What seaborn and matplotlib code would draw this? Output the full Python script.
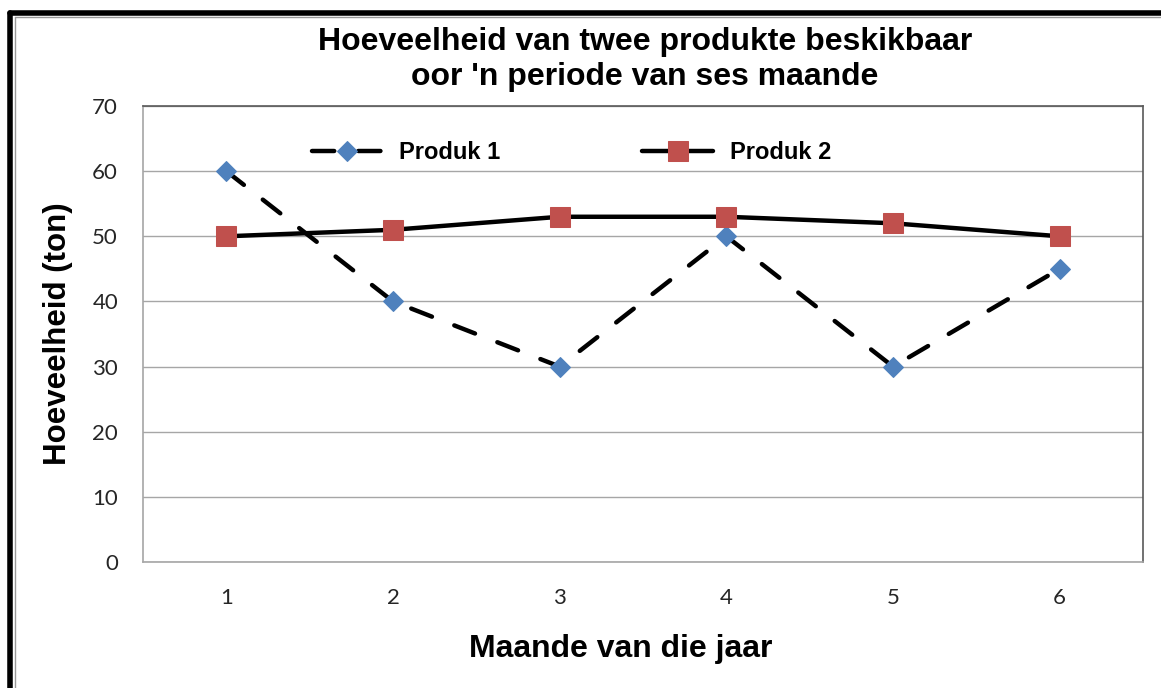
import matplotlib.pyplot as plt
import matplotlib.lines as mlines
import pandas as pd
import seaborn as sns

# chart values
months = [1, 2, 3, 4, 5, 6]
produk_1 = [60, 40, 30, 50, 30, 45]
produk_2 = [50, 51, 53, 53, 52, 50]

title = "Hoeveelheid van twee produkte beskikbaar\noor 'n periode van ses maande"
x_label = "Maande van die jaar"
y_label = "Hoeveelheid (ton)"

df = pd.DataFrame({"maand": months, "Produk 1": produk_1, "Produk 2": produk_2})

sns.set_style("white")
plt.rcParams['font.family'] = ['Liberation Sans', 'DejaVu Sans']
plt.rcParams['text.color'] = 'black'
plt.rcParams['axes.labelcolor'] = 'black'

fig = plt.figure(figsize=(11.61, 6.88), dpi=100)
ax = fig.add_axes([0.1232, 0.1831, 0.8613, 0.6628])

sns.lineplot(data=df, x="maand", y="Produk 1", ax=ax, color="black", lw=3.2,
             marker="D", markersize=10, markerfacecolor="#4F81BD",
             markeredgecolor="#4F81BD", label="Produk 1")
l1 = ax.lines[-1]
l1.set_linestyle((0, (5.0, 5.4)))
l1.set_dash_capstyle("round")
sns.lineplot(data=df, x="maand", y="Produk 2", ax=ax, color="black", lw=3.2,
             marker="s", markersize=14, markerfacecolor="#C0504D",
             markeredgecolor="#C0504D", label="Produk 2")

ax.set_xlim(0.5, 6.5)
ax.set_ylim(0, 70)
ax.set_xticks(months)
ax.set_yticks(range(0, 71, 10))
ax.grid(axis="y", color="#a6a6a6", lw=1)
ax.set_axisbelow(True)
for side in ["left", "bottom"]:
    ax.spines[side].set_color("#a6a6a6")
for side in ["top", "right"]:
    ax.spines[side].set_color("#595959")
for s in ax.spines.values():
    s.set_linewidth(1.2)
ax.tick_params(axis="both", length=0, labelsize=16, colors="#262626")
ax.tick_params(axis="x", pad=19)
ax.tick_params(axis="y", pad=18)
for t in ax.get_xticklabels() + ax.get_yticklabels():
    t.set_fontfamily("Lato")

ax.set_xlabel(x_label, fontsize=23, fontweight="bold")
ax.xaxis.set_label_coords(0.478, -0.158)
ax.set_ylabel(y_label, fontsize=22.5, fontweight="bold", labelpad=14)
fig.text(0.5556, 0.9135, title, ha="center", va="center", fontsize=23,
         fontweight="bold", linespacing=1.22)

leg = ax.legend(loc="center", bbox_to_anchor=(0.4285, 0.897), ncol=2,
                frameon=False, handlelength=3.0, handletextpad=0.7,
                columnspacing=6.0, prop={"weight": "bold", "size": 17})

# outer frame (top and left edges)
fig.add_artist(mlines.Line2D([0.009, 1], [0.981, 0.981], color="black", lw=4,
                             transform=fig.transFigure))
fig.add_artist(mlines.Line2D([0.009, 0.009], [0, 0.981], color="black", lw=4,
                             transform=fig.transFigure))
fig.add_artist(mlines.Line2D([0.013, 1], [0.975, 0.975], color="#999999", lw=1,
                             transform=fig.transFigure))
fig.add_artist(mlines.Line2D([0.013, 0.013], [0, 0.975], color="#999999", lw=1,
                             transform=fig.transFigure))

fig.savefig("out.png", dpi=100)
